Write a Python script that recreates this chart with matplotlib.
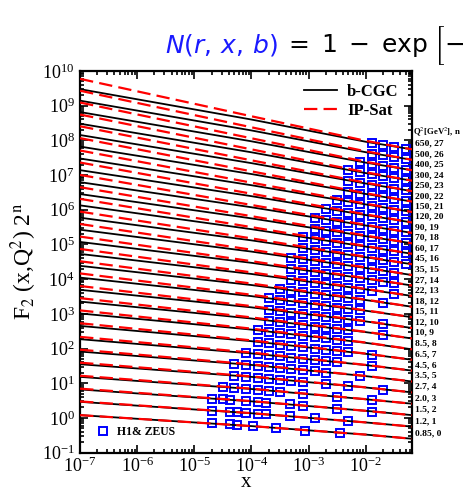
import numpy as np
import matplotlib
matplotlib.use("Agg")
import matplotlib.pyplot as plt
from matplotlib.lines import Line2D
from matplotlib.ticker import LogLocator, NullFormatter

plt.rcParams['font.family'] = ['Liberation Serif', 'DejaVu Serif']
plt.rcParams['mathtext.fontset'] = 'stix'

# ---------------- data ----------------
q2_labels = ["0.85", "1.2", "1.5", "2.0", "2.7", "3.5", "4.5", "6.5", "8.5", "10",
             "12", "15", "18", "22", "27", "35", "45", "60", "70", "90",
             "120", "150", "200", "250", "300", "400", "500", "650"]
n_values = list(range(28))

# x positions where model curves are tabulated
x_nodes = [1e-7, 1e-4, 1e-2, 0.065]

# b-CGC F2 values at x_nodes (one entry per Q2 bin)
bcgc_x1e7 = [1.2, 1.45, 1.65, 1.9, 2.2, 2.55, 2.9, 3.5, 4.0, 4.4, 4.8, 5.4, 5.9, 6.5,
             7.2, 8.1, 9.0, 10.2, 10.8, 11.9, 13.2, 14.3, 15.8, 17.0, 18.0, 19.5, 20.8, 22.3]
bcgc_x1e4 = [0.58, 0.68, 0.75, 0.85, 0.95, 1.05, 1.13, 1.27, 1.37, 1.43, 1.50, 1.58, 1.65, 1.72,
             1.80, 1.90, 2.00, 2.10, 2.15, 2.25, 2.35, 2.43, 2.55, 2.63, 2.70, 2.80, 2.88, 2.97]
bcgc_x1e2 = [0.33, 0.37, 0.40, 0.43, 0.47, 0.50, 0.52, 0.55, 0.57, 0.58, 0.59, 0.60, 0.61, 0.62,
             0.63, 0.64, 0.65, 0.66, 0.66, 0.67, 0.67, 0.68, 0.68, 0.68, 0.68, 0.68, 0.68, 0.68]
bcgc_xmax = [0.25, 0.28, 0.30, 0.32, 0.34, 0.35, 0.36, 0.37, 0.37, 0.38, 0.38, 0.39, 0.39, 0.40,
             0.40, 0.40, 0.41, 0.41, 0.41, 0.41, 0.41, 0.41, 0.41, 0.41, 0.41, 0.41, 0.41, 0.41]

# IP-Sat F2 values at x_nodes
ipsat_x1e7 = [1.2, 1.49, 1.74, 2.05, 2.44, 2.89, 3.38, 4.18, 4.9, 5.53, 6.18, 7.13, 7.99, 9.04,
              10.27, 11.84, 13.5, 15.69, 17.04, 19.25, 21.9, 24.3, 27.6, 30.4, 33.1, 36.7, 40.2, 44.2]
ipsat_x1e4 = [0.58, 0.685, 0.762, 0.87, 0.98, 1.09, 1.19, 1.34, 1.46, 1.54, 1.63, 1.73, 1.82, 1.91,
              2.01, 2.15, 2.28, 2.41, 2.49, 2.62, 2.76, 2.88, 3.05, 3.17, 3.28, 3.42, 3.55, 3.69]
ipsat_x1e2 = [0.33, 0.37, 0.40, 0.433, 0.474, 0.506, 0.527, 0.559, 0.581, 0.592, 0.604, 0.616, 0.627, 0.639,
              0.651, 0.662, 0.675, 0.686, 0.688, 0.70, 0.701, 0.714, 0.715, 0.717, 0.719, 0.72, 0.722, 0.724]
ipsat_xmax = [0.25, 0.28, 0.30, 0.32, 0.34, 0.35, 0.36, 0.37, 0.37, 0.38, 0.38, 0.39, 0.39, 0.40,
              0.40, 0.40, 0.41, 0.41, 0.41, 0.41, 0.41, 0.41, 0.41, 0.41, 0.41, 0.41, 0.41, 0.41]

# H1 & ZEUS measurements, per Q2 bin: x values and F2 values
data_x = [
    [2e-5, 4.2e-5, 5.5e-5, 1.07e-4, 2.7e-4, 8.7e-4, 3.6e-3],
    [2e-5, 4.2e-5, 5.5e-5, 8e-5, 1.3e-4, 1.8e-4, 4.7e-4, 1.3e-3, 5e-3],
    [2e-5, 3.2e-5, 4.3e-5, 8e-5, 1.3e-4, 1.8e-4, 4.7e-4, 8e-4, 3.2e-3, 1.3e-2],
    [3.2e-5, 5e-5, 8e-5, 1.3e-4, 2e-4, 3.2e-4, 8e-4, 3.2e-3, 1.3e-2],
    [5e-5, 8e-5, 1.3e-4, 2e-4, 3.2e-4, 5e-4, 8e-4, 2e-3, 5e-3, 2e-2],
    [5e-5, 8e-5, 1.3e-4, 2e-4, 3.2e-4, 5e-4, 8e-4, 1.3e-3, 2e-3, 8e-3],
    [8e-5, 1.3e-4, 2e-4, 3.2e-4, 5e-4, 8e-4, 1.3e-3, 2e-3, 3.2e-3, 1.3e-2],
    [1.3e-4, 2e-4, 3.2e-4, 5e-4, 8e-4, 1.3e-3, 2e-3, 3.2e-3, 5e-3, 1.3e-2],
    [1.3e-4, 2e-4, 3.2e-4, 5e-4, 8e-4, 1.3e-3, 2e-3, 3.2e-3, 5e-3],
    [2e-4, 3.2e-4, 5e-4, 8e-4, 1.3e-3, 2e-3, 3.2e-3, 5e-3, 2e-2],
    [2e-4, 3.2e-4, 5e-4, 8e-4, 1.3e-3, 2e-3, 3.2e-3, 5e-3, 8e-3, 2e-2],
    [2e-4, 3.2e-4, 5e-4, 8e-4, 1.3e-3, 2e-3, 3.2e-3, 5e-3, 8e-3],
    [3.2e-4, 5e-4, 8e-4, 1.3e-3, 2e-3, 3.2e-3, 5e-3, 8e-3, 2e-2],
    [5e-4, 8e-4, 1.3e-3, 2e-3, 3.2e-3, 5e-3, 8e-3, 1.3e-2, 3.2e-2],
    [5e-4, 8e-4, 1.3e-3, 2e-3, 3.2e-3, 5e-3, 8e-3, 1.3e-2, 2e-2, 3.2e-2],
    [5e-4, 8e-4, 1.3e-3, 2e-3, 3.2e-3, 5e-3, 8e-3, 1.3e-2, 2e-2, 3.2e-2],
    [8e-4, 1.3e-3, 2e-3, 3.2e-3, 5e-3, 8e-3, 1.3e-2, 2e-2, 3.2e-2, 5e-2],
    [8e-4, 1.3e-3, 2e-3, 3.2e-3, 5e-3, 8e-3, 1.3e-2, 2e-2, 3.2e-2, 5e-2],
    [1.3e-3, 2e-3, 3.2e-3, 5e-3, 8e-3, 1.3e-2, 2e-2, 3.2e-2, 5e-2],
    [1.3e-3, 2e-3, 3.2e-3, 5e-3, 8e-3, 1.3e-2, 2e-2, 3.2e-2, 5e-2],
    [2e-3, 3.2e-3, 5e-3, 8e-3, 1.3e-2, 2e-2, 3.2e-2, 5e-2],
    [3.2e-3, 5e-3, 8e-3, 1.3e-2, 2e-2, 3.2e-2, 5e-2],
    [5e-3, 8e-3, 1.3e-2, 2e-2, 3.2e-2, 5e-2],
    [5e-3, 8e-3, 1.3e-2, 2e-2, 3.2e-2, 5e-2],
    [5e-3, 8e-3, 1.3e-2, 2e-2, 3.2e-2, 5e-2],
    [8e-3, 1.3e-2, 2e-2, 3.2e-2, 5e-2],
    [1.3e-2, 2e-2, 3.2e-2, 5e-2],
    [1.3e-2, 2e-2, 3.2e-2, 5e-2],
]
data_f2 = [
    [0.70, 0.65, 0.63, 0.60, 0.50, 0.43, 0.37],
    [0.81, 0.75, 0.73, 0.69, 0.65, 0.63, 0.56, 0.48, 0.40],
    [0.90, 0.85, 0.83, 0.77, 0.72, 0.69, 0.61, 0.56, 0.46, 0.38],
    [0.97, 0.91, 0.87, 0.81, 0.76, 0.71, 0.61, 0.50, 0.41],
    [1.03, 0.97, 0.91, 0.85, 0.79, 0.73, 0.68, 0.59, 0.51, 0.41],
    [1.14, 1.07, 1.00, 0.93, 0.86, 0.80, 0.74, 0.68, 0.63, 0.51],
    [1.16, 1.08, 0.99, 0.92, 0.85, 0.78, 0.72, 0.67, 0.62, 0.49],
    [1.20, 1.11, 1.01, 0.93, 0.85, 0.78, 0.72, 0.66, 0.61, 0.51],
    [1.30, 1.19, 1.08, 0.99, 0.90, 0.82, 0.76, 0.69, 0.64],
    [1.23, 1.12, 1.03, 0.93, 0.84, 0.77, 0.71, 0.65, 0.48],
    [1.29, 1.17, 1.06, 0.96, 0.87, 0.80, 0.73, 0.66, 0.60, 0.49],
    [1.35, 1.22, 1.11, 0.99, 0.90, 0.82, 0.74, 0.68, 0.62],
    [1.26, 1.14, 1.02, 0.92, 0.84, 0.76, 0.69, 0.63, 0.50],
    [1.18, 1.05, 0.95, 0.86, 0.78, 0.70, 0.64, 0.57, 0.46],
    [1.22, 1.09, 0.97, 0.88, 0.79, 0.72, 0.65, 0.58, 0.52, 0.46],
    [1.27, 1.13, 1.01, 0.91, 0.81, 0.73, 0.66, 0.59, 0.52, 0.46],
    [1.17, 1.04, 0.93, 0.83, 0.75, 0.67, 0.60, 0.53, 0.47, 0.43],
    [1.21, 1.07, 0.96, 0.85, 0.76, 0.68, 0.61, 0.54, 0.48, 0.43],
    [1.08, 0.96, 0.86, 0.77, 0.68, 0.61, 0.54, 0.48, 0.43],
    [1.11, 0.99, 0.87, 0.78, 0.69, 0.61, 0.54, 0.48, 0.43],
    [1.00, 0.88, 0.78, 0.69, 0.61, 0.54, 0.48, 0.43],
    [0.90, 0.80, 0.70, 0.62, 0.55, 0.48, 0.43],
    [0.80, 0.70, 0.62, 0.55, 0.48, 0.43],
    [0.81, 0.70, 0.62, 0.55, 0.48, 0.43],
    [0.81, 0.71, 0.62, 0.55, 0.48, 0.43],
    [0.71, 0.62, 0.55, 0.48, 0.43],
    [0.62, 0.55, 0.48, 0.43],
    [0.62, 0.55, 0.48, 0.43],
]

# ---------------- figure ----------------
fig = plt.figure(figsize=(4.63, 4.93), dpi=100)
ax = fig.add_axes([0.173, 0.082, 0.717, 0.774])

for n in n_values:
    scale = 2.0 ** n
    yb = np.array([bcgc_x1e7[n], bcgc_x1e4[n], bcgc_x1e2[n], bcgc_xmax[n]]) * scale
    yr = np.array([ipsat_x1e7[n], ipsat_x1e4[n], ipsat_x1e2[n], ipsat_xmax[n]]) * scale
    ax.plot(data_x[n], np.array(data_f2[n]) * scale, ls='none', marker='s', ms=6,
            mfc='none', mec='#0000ff', mew=1.4, zorder=2)
    ax.plot(x_nodes, yb, color='black', lw=1.3, zorder=3)
    ax.plot(x_nodes, yr, color='#ff0000', lw=1.6, ls=(0, (6, 2.8)), zorder=4)
    ax.annotate(f"{q2_labels[n]}, {n}", xy=(1.0, bcgc_xmax[n] * scale),
                xycoords=('axes fraction', 'data'), xytext=(2, 4),
                textcoords='offset points', fontsize=6.8, fontweight='bold',
                va='center', ha='left', annotation_clip=False)

ax.text(1.004, 0.842, r"Q$^2$[GeV$^2$], n", transform=ax.transAxes,
        fontsize=6.3, fontweight='bold', ha='left', va='center')

ax.set_xscale('log')
ax.set_yscale('log')
ax.set_xlim(1e-7, 0.065)
ax.set_ylim(1e-1, 1e10)
ax.xaxis.set_major_locator(LogLocator(base=10, numticks=20))
ax.yaxis.set_major_locator(LogLocator(base=10, numticks=20))
ax.xaxis.set_minor_locator(LogLocator(base=10, subs=np.arange(2, 10), numticks=40))
ax.yaxis.set_minor_locator(LogLocator(base=10, subs=np.arange(2, 10), numticks=40))
ax.xaxis.set_minor_formatter(NullFormatter())
ax.yaxis.set_minor_formatter(NullFormatter())
ax.tick_params(which='both', direction='in', top=True, right=True, width=1.2)
ax.tick_params(which='major', length=6, labelsize=13, pad=4)
ax.tick_params(axis='x', which='major', pad=3)
ax.tick_params(which='minor', length=3)
for s in ax.spines.values():
    s.set_linewidth(1.6)

ax.set_xlabel("x", fontsize=15, labelpad=-2)
ax.set_ylabel(r"F$_2$ (x,Q$^2$) 2$^{\rm n}$", fontsize=17, labelpad=2)

h1 = [Line2D([], [], color='black', lw=1.3),
      Line2D([], [], color='#ff0000', lw=1.6, ls=(0, (6, 2.8)))]
leg1 = ax.legend(h1, ['b-CGC', 'IP-Sat'], loc='upper right', frameon=False,
                 prop={'weight': 'bold', 'size': 12}, handlelength=2.0,
                 labelspacing=0.15, borderaxespad=0.4, handletextpad=0.6)
ax.add_artist(leg1)
h2 = [Line2D([], [], ls='none', marker='s', ms=6, mfc='none', mec='#0000ff', mew=1.4)]
ax.legend(h2, ['H1& ZEUS'], loc='lower left', frameon=False,
          prop={'weight': 'bold', 'size': 8.5}, handletextpad=0.5,
          handlelength=1.4, borderaxespad=0.8)

# slide title (cut off at the right edge as in the reference)
fig.text(0.601, 0.893, r"$N(r,\, x,\, b)$", color='#1a1aff', fontsize=18,
         ha='right', va='baseline', math_fontfamily='dejavusans')
fig.text(0.614, 0.893,
         r"$=\;1\;-\;\mathrm{exp}\;\left[{-}\frac{\pi^2 r^2}{2N_c}\alpha_s\right]$",
         color='black', fontsize=18, ha='left', va='baseline',
         math_fontfamily='dejavusans')

fig.savefig("out.png", dpi=100)
